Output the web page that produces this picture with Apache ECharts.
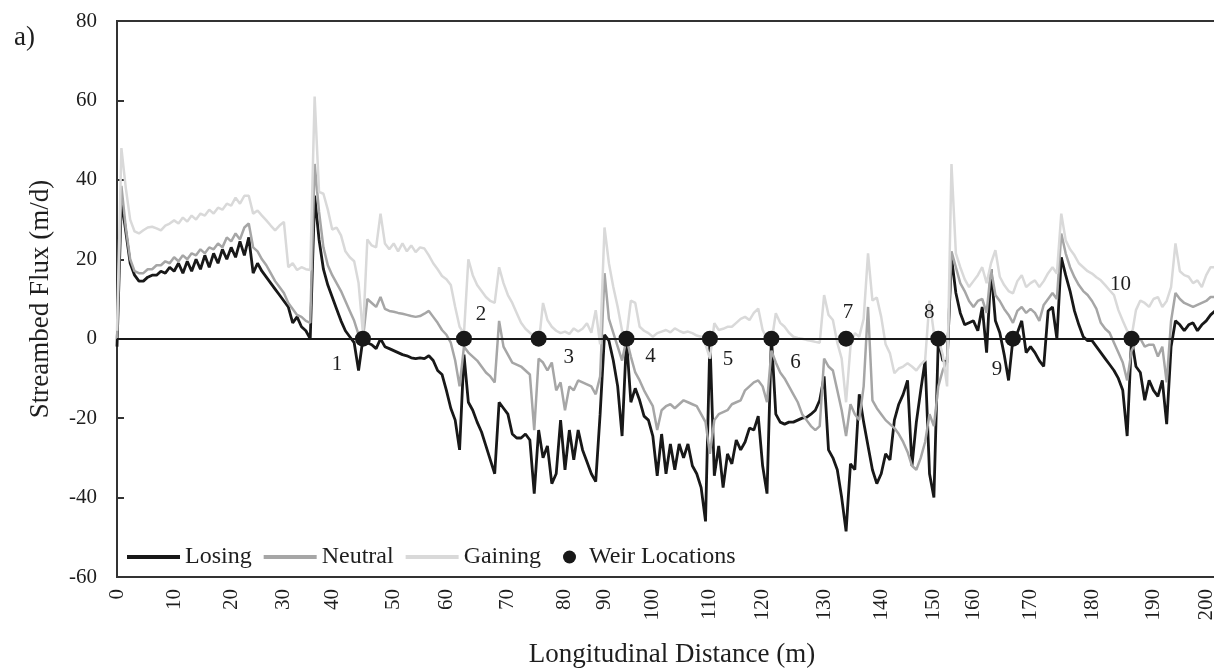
<!DOCTYPE html>
<html>
<head>
<meta charset="utf-8">
<title>Streambed Flux</title>
<script src="https://cdn.jsdelivr.net/npm/echarts@6.0.0/dist/echarts.min.js"></script>
<style>
  html, body { margin: 0; padding: 0; background: #fff; }
  #chart { width: 1214px; height: 670px; }
</style>
</head>
<body>
<div id="chart"></div>
<script>
// distance labels (m) and the sample index where each sits on the category axis
const distanceLabels = [0, 10, 20, 30, 40, 50, 60, 70, 80, 90, 100, 110, 120, 130, 140, 150, 160, 170, 180, 190, 200];
const labelIndex = [0, 13, 26, 38, 49, 63, 75, 89, 102, 111, 122, 135, 147, 161, 174, 186, 195, 208, 222, 236, 248];

// streambed flux (m/d) per sample, 251 samples
const losing = [
  -2, 35, 27, 19, 16, 14.5, 14.5, 15.5, 16, 16,
  17, 16.5, 18, 17, 19, 16.5, 19.5, 17, 20, 17.5,
  21, 18, 21.5, 19, 22.5, 20, 23, 20.5, 24.5, 21,
  25.5, 16.5, 19, 17, 15.5, 14, 12.5, 11, 9.5, 8,
  4, 5.5, 3, 2, 0, 36, 25, 17.5, 13.5, 10.5,
  7.5, 4.5, 2, 0.5, -1, -8, 0, -1, -1.5, -2.5,
  0, -2, -2.5, -3, -3.5, -4, -4.3, -4.8, -5, -4.8,
  -5, -4.3, -5.5, -8, -9, -13, -17.5, -20.5, -28, -4,
  -16, -18, -21, -23.5, -27, -30.5, -34, -16, -17.5, -19,
  -24, -25, -25, -24, -25.5, -39, -23, -30, -27, -36.5,
  -34, -20.5, -33, -23, -30.5, -23, -28, -31, -34, -36,
  -19, 1, -0.5, -5.5, -12, -24.5, 0, -16, -12.5, -15.5,
  -19.5, -20.5, -24.5, -34.5, -24, -34, -26.5, -33, -26.5, -30,
  -26.5, -32, -34, -37.5, -46, 0, -34.5, -27, -37.5, -29,
  -31.5, -25.5, -28, -26, -22.5, -23, -19.5, -32, -39, 0.5,
  -19, -21, -21.5, -21, -21, -20.5, -20, -19.8, -19, -18,
  -15.5, -9.5, -28, -30, -33, -40, -48.5, -31.5, -33, -14,
  -21, -27, -33, -36.5, -34, -29, -30.5, -20.5, -16.5, -14,
  -10.5, -32, -21, -13, -5.5, -34, -40, 0, -5.5, -6,
  20.5, 11.5, 6.5, 3.5, 4, 4.5, 2, 8, -3.5, 17.5,
  4.5, 1.5, -4, -10.5, 0, 1.5, 4.5, -3.5, -2, -3.5,
  -5.5, -7, 7, 8, 0, 20.5, 16, 12, 7, 3.5,
  0.5, -0.5, -0.5, -2, -3.5, -5, -6.5, -8, -10, -13,
  -24.5, 0, -7, -8.5, -15.5, -10.5, -13, -14.5, -10.5, -21.5,
  -2, 4.5, 3.5, 2, 3.5, 4, 2, 3.5, 4.5, 6,
  7
];
const neutral = [
  0, 38.5, 28, 20, 17, 16.5, 16.5, 17.5, 17.5, 18.5,
  18.5, 19.5, 19, 20.5, 19.5, 21, 20, 21.5, 21, 22.5,
  21.5, 23, 22.5, 24, 23, 25.5, 24.5, 26.5, 25, 28,
  29, 23, 22, 20, 18.5, 16.5, 14.5, 13, 11.5, 9,
  7.5, 6, 5.5, 4.5, 4, 44, 32, 23, 18.5, 16,
  14, 12, 9.5, 7, 4.5, 1, 0, 10, 9, 8,
  10.5, 7.5, 7, 6.8, 6.5, 6.3, 6, 5.7, 5.5, 5.7,
  6.3, 7, 5.5, 4, 2.2, 1, -1, -5.5, -12, -2,
  -3.5, -4.5, -5.5, -7, -8.5, -9.5, -11, 4.5, -2, -4,
  -6, -6.5, -7, -8, -9, -23, -5, -6, -8, -6,
  -13, -11, -18, -12, -13, -10.5, -11, -11.5, -12, -14,
  -9.5, 16.5, 5, 1.5, -2, -5.5, 0, -4.5, -8.5, -10.5,
  -13, -15, -17, -23, -18, -17, -16.5, -17.5, -16.5, -15.5,
  -16, -16.5, -17, -19, -21, -29, -20.5, -19, -18.5, -18,
  -16.5, -16, -15.5, -13, -12, -11, -10.5, -12, -16, -3,
  -6, -8.5, -10, -12, -14, -16, -19, -20.5, -22, -23,
  -22, -5, -7, -8, -13, -18, -24.5, -16.5, -19, -20.5,
  -12, 8, -15.5, -17.5, -19, -20.5, -21.5, -22.5, -24, -26,
  -28.5, -32, -33, -30, -26, -19, -22, -12, -8, -5.5,
  22, 18, 14, 12, 9.5, 8, 9.5, 10, 6.5, 17.5,
  11, 9.5, 7.5, 6, 4, 7, 8, 6.5, 7.5, 6.5,
  4.5, 8.5, 10, 11.5, 10, 26.5, 21.5, 18, 15.5, 13.5,
  12, 11, 9.5, 7.5, 4, 2.5, 1.5, -1, -3.5, -6,
  -10.5, -3, -1, 0, -2, -1.5, -1.5, -4.5, -2, -11,
  4.5, 11.5, 10, 9, 8.5, 8, 8.5, 9, 9.5, 10.5,
  10.5
];
const gaining = [
  2, 48, 38, 30, 27, 26.5, 27.3, 28, 28.2, 27.8,
  27.3, 28.5, 29, 29.8, 29, 30.5, 29.5, 31, 30, 31.5,
  31, 32.5, 31.5, 33, 32.5, 34, 33.5, 35.5, 34, 36,
  36, 31.5, 32.3, 31, 29.8, 28.5, 27.3, 28.5, 29.4, 18,
  19, 17.3, 18, 17.5, 17.3, 61, 37, 36.5, 32.5, 27.5,
  28, 26, 22, 20.5, 19.5, 14, 1.3, 25, 23.5, 23,
  31.5, 24, 22.5, 24, 22, 24, 22, 23.5, 21.8, 23,
  22.7, 21, 19, 17.5, 15.8, 15, 13.5, 8, 3, 1.3,
  20, 16, 13.5, 12, 10.5, 9.5, 9, 18, 14, 11,
  9, 6.5, 4, 2.5, 1.5, 0.5, -1.5, 9, 4.7, 3,
  2, 1.4, 1.8, 1.2, 2.6, 1.8, 2.5, 3.9, 1.5, 7.2,
  -1.4, 28, 19, 13, 8, 2, 0.5, 9.6, 9, 3,
  2, 1.4, 0.5, 1.4, 1.8, 2.2, 1.6, 2.6, 2, 1.5,
  1.8, 1.4, 0.8, 0.5, -1.4, -5, 3.9, 2.2, 2.5, 3,
  3, 4, 5, 5.5, 4.7, 6.5, 7.6, 2.2, 0, -1,
  6.4, 4, 3, 1.5, 0.5, 0.2, 0, -0.3, -0.5, -0.8,
  -1, 11, 6, 4.7, -1, -5, -16, -2, 1.4, 0.5,
  5, 21.5, 9.6, 10.4, 5.5, -1.4, -3.7, -8.7, -7.5, -7,
  -6.2, -7, -8, -6.5, -5.4, 9.6, 1.4, 0, -4, -12,
  44, 21.5, 18, 15, 13, 14.5, 16, 18, 14, 19,
  22.3, 15.6, 13.5, 12, 11.4, 14.5, 16, 13, 14, 14.7,
  13, 14.5, 16.5, 18, 16.4, 31.5, 24.8, 22.5, 21, 19,
  18, 17, 16.4, 15.5, 14.7, 13.5, 12.2, 11, 7.2, 4.5,
  2, 0.5, 7.2, 9.6, 9, 8, 10, 10.5, 8, 9.5,
  13, 24, 17, 16, 15.6, 14, 14.7, 13, 16, 18,
  18
];

// weirs: sample index and number
const weirIndex = [56, 79, 96, 116, 135, 149, 166, 187, 204, 231];
const weirNames = ['1', '2', '3', '4', '5', '6', '7', '8', '9', '10'];

// category list: distance text at labelled samples, blank elsewhere
const categories = losing.map(() => '');
labelIndex.forEach((idx, k) => { categories[idx] = String(distanceLabels[k]); });

const FONT = "'Liberation Serif', 'Times New Roman', serif";
const INK = '#1e1e1e';

// where each weir number sits relative to its dot (px)
const weirLabelOffset = [[-26, 26], [17, -24], [30, 19], [24, 18], [18, 21], [24, 24], [2, -26], [-9, -26], [-16, 31], [-11, -54]];

const lineSeries = (name, data, color, width) => ({
  name: name,
  type: 'line',
  data: data,
  symbol: 'none',
  itemStyle: { color: color },
  lineStyle: { color: color, width: width }
});

const losingSeries = lineSeries('Losing', losing, '#181818', 2.8);
// horizontal line at zero flux
losingSeries.markLine = {
  silent: true,
  symbol: 'none',
  label: { show: false },
  lineStyle: { color: '#181818', width: 2, type: 'solid' },
  data: [{ yAxis: 0 }]
};

const option = {
  animation: false,
  backgroundColor: '#fff',
  textStyle: { fontFamily: FONT, color: INK },
  grid: {
    left: 117, right: -1, top: 21, bottom: 93,
    show: true, borderColor: '#333', borderWidth: 2,
    containLabel: false, outerBoundsMode: 'none'
  },
  graphic: [{
    type: 'text', left: 14, top: 24,
    style: { text: 'a)', font: '27px ' + FONT, fill: INK }
  }],
  legend: [{
    data: ['Losing', 'Neutral', 'Gaining'],
    left: 122, top: 540,
    icon: 'rect', itemWidth: 53, itemHeight: 4, itemGap: 12,
    textStyle: { fontFamily: FONT, fontSize: 24, color: INK }
  }, {
    data: ['Weir Locations'],
    left: 558, top: 540,
    icon: 'circle', itemWidth: 13, itemHeight: 13,
    textStyle: { fontFamily: FONT, fontSize: 24, color: INK, padding: [0, 0, 0, 8] }
  }],
  xAxis: {
    type: 'category',
    data: categories,
    boundaryGap: false,
    axisLine: { show: false },
    axisTick: { show: false },
    axisLabel: {
      interval: (index) => categories[index] !== '',
      rotate: 90, margin: 12,
      fontFamily: FONT, fontSize: 21, color: INK
    },
    name: 'Longitudinal Distance (m)',
    nameLocation: 'middle', nameGap: 64,
    nameTextStyle: { fontFamily: FONT, fontSize: 27, color: INK, padding: [0, 0, 0, 12] }
  },
  yAxis: {
    type: 'value',
    min: -60, max: 80, interval: 20,
    splitLine: { show: false },
    axisLine: { show: false },
    axisTick: { show: true, inside: true, length: 7, lineStyle: { color: '#333', width: 2 } },
    axisLabel: { margin: 20, fontFamily: FONT, fontSize: 21, color: INK },
    name: 'Streambed Flux (m/d)',
    nameLocation: 'middle', nameGap: 63, nameRotate: 90,
    nameTextStyle: { fontFamily: FONT, fontSize: 27, color: INK }
  },
  series: [
    losingSeries,
    lineSeries('Neutral', neutral, '#a6a6a6', 2.5),
    lineSeries('Gaining', gaining, '#d9d9d9', 2.5),
    {
      name: 'Weir Locations',
      type: 'scatter',
      symbol: 'circle',
      symbolSize: 16,
      z: 5,
      itemStyle: { color: '#181818', opacity: 1 },
      data: weirIndex.map((idx, k) => ({ value: [idx, 0], label: { offset: weirLabelOffset[k] } })),
      label: {
        show: true, position: 'inside',
        formatter: (p) => weirNames[p.dataIndex],
        fontFamily: FONT, fontSize: 21, color: INK, opacity: 1
      }
    }
  ]
};

const chart = echarts.init(document.getElementById('chart'));
chart.setOption(option);
</script>
</body>
</html>
